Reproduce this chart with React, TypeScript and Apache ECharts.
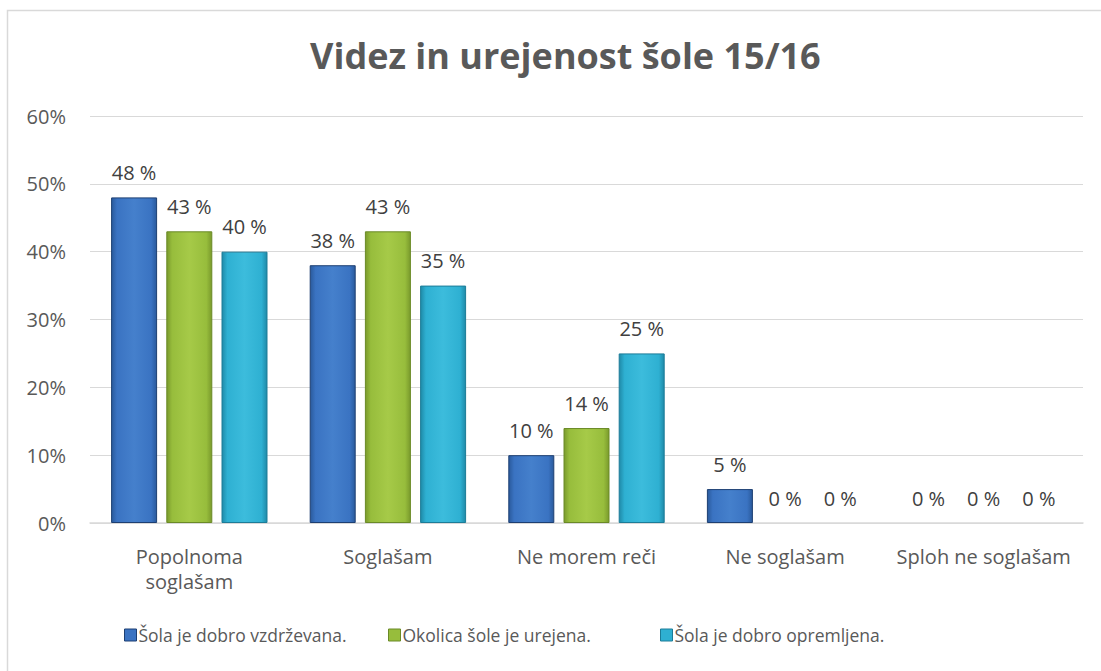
import React, { useEffect, useRef } from "react";
import * as echarts from "echarts";

const categories = ["Popolnoma\nsoglašam", "Soglašam", "Ne morem reči", "Ne soglašam", "Sploh ne soglašam"];
const seriesNames = ["Šola je dobro vzdrževana.", "Okolica šole je urejena.", "Šola je dobro opremljena."];
const vzdrzevana = [48, 38, 10, 5, 0];
const okolica = [43, 43, 14, 0, 0];
const opremljena = [40, 35, 25, 0, 0];
const yTicks = [0, 10, 20, 30, 40, 50, 60];

const FONT = "'Open Sans', 'DejaVu Sans', sans-serif";

function grad(dark: string, mid: string, light: string) {
  return new echarts.graphic.LinearGradient(0, 0, 1, 0, [
    { offset: 0, color: dark },
    { offset: 0.12, color: mid },
    { offset: 0.5, color: light },
    { offset: 0.88, color: mid },
    { offset: 1, color: dark },
  ]);
}

export default function App() {
  const ref = useRef<HTMLDivElement>(null);
  useEffect(() => {
    const chart = echarts.init(ref.current!, undefined, { renderer: "svg" });
    const colors = [
      { g: grad("#2a5a9c", "#3a73c2", "#4580cc"), b: "#1d3f72", legend: "#3a73c2" },
      { g: grad("#7a9a2c", "#97bd3c", "#a6ca48"), b: "#6a8a26", legend: "#97bd3c" },
      { g: grad("#1f8aa8", "#2eb0d2", "#3cbcdc"), b: "#1c7c98", legend: "#2eb0d2" },
    ];
    const legendLeft = [124, 388, 660];
    const datas = [vzdrzevana, okolica, opremljena];
    chart.setOption({
      animation: false,
      backgroundColor: "#ffffff",
      title: {
        text: "Videz in urejenost šole 15/16",
        left: 305,
        top: 32,
        textStyle: { fontFamily: FONT, fontSize: 36, fontWeight: "bold", color: "#595959" },
      },
      graphic: [
        {
          type: "rect",
          shape: { x: 7.5, y: 10.5, width: 1300, height: 1000 },
          style: { fill: "none", stroke: "#d9d9d9", lineWidth: 1.5 },
          silent: true,
        },
      ],
      legend: seriesNames.map((n, i) => ({
        top: 626,
        left: legendLeft[i],
        padding: 0,
        itemWidth: 12,
        itemHeight: 12,
        icon: "rect",
        textStyle: { fontFamily: FONT, fontSize: 17.5, color: "#595959", padding: [0, 0, 0, -3] },
        data: [{ name: n, itemStyle: { color: colors[i].legend, borderColor: colors[i].b, borderWidth: 1 } }],
      })),
      grid: { left: 90, right: 18, top: 116, bottom: 148, containLabel: false },
      xAxis: {
        type: "category",
        data: categories,
        axisLine: { lineStyle: { color: "#d9d9d9", width: 1.5 } },
        axisTick: { show: false },
        axisLabel: { interval: 0, fontFamily: FONT, fontSize: 20, color: "#595959", margin: 21, lineHeight: 25 },
      },
      yAxis: {
        type: "value",
        min: yTicks[0],
        max: yTicks[yTicks.length - 1],
        interval: 10,
        axisLine: { show: false },
        axisTick: { show: false },
        splitLine: { lineStyle: { color: "#d9d9d9", width: 1 } },
        axisLabel: { fontFamily: FONT, fontSize: 20, color: "#595959", margin: 24, formatter: "{value}%" },
      },
      series: datas.map((d, i) => ({
        name: seriesNames[i],
        type: "bar",
        data: d.map((v) =>
          v > 0 ? v : { value: v, itemStyle: { color: "rgba(0,0,0,0)", borderWidth: 0 } }
        ),
        barWidth: 46,
        barGap: "20%",
        itemStyle: { color: colors[i].g, borderColor: colors[i].b, borderWidth: 1 },
        label: {
          show: true,
          position: "top",
          distance: 15,
          fontFamily: FONT,
          fontSize: 20,
          color: "#404040",
          formatter: (p: any) => p.value + " %",
        },
      })),
    });
    return () => chart.dispose();
  }, []);
  return <div ref={ref} style={{ position: "fixed", left: 0, top: 0, width: 1101, height: 671 }} />;
}
